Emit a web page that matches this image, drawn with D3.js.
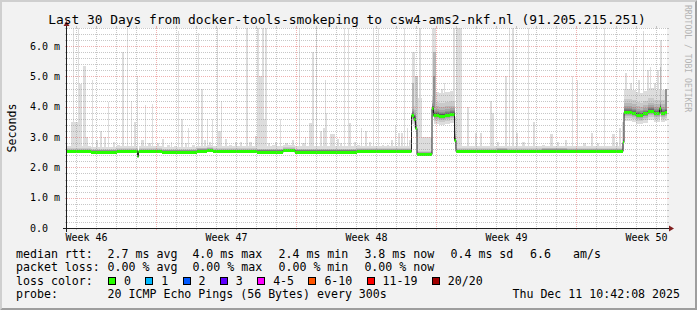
<!DOCTYPE html>
<html>
<head>
<meta charset="utf-8">
<script src="https://cdn.jsdelivr.net/npm/d3@7"></script>
<style>
  html, body { margin: 0; padding: 0; background: #f2f2f2; }
  svg { display: block; font-family: "DejaVu Sans Mono", monospace; }
</style>
</head>
<body>
<div id="chart"></div>
<script>
// ---- data: times are days since the start of the 30 day window, values in ms ----

// median rtt, as a step function (change points)
const medianDays = [0, 1.2, 2.5, 3.525, 3.575, 4.75, 6.5, 7.0, 7.3, 9.5, 10.8, 11.4, 14.5,
  17.225, 17.35, 17.425, 17.5, 18.25, 18.325, 18.6, 18.9, 19.15, 19.375, 19.45,
  21.5, 22.0, 23.75, 25.0, 27.8, 27.85, 28.25, 28.45, 28.65, 28.8, 29.05, 29.35, 29.625, 29.7, 29.9];
const medianMs = [2.53, 2.51, 2.53, 2.38, 2.53, 2.51, 2.55, 2.57, 2.53, 2.52, 2.56, 2.52, 2.54,
  3.73, 3.60, 3.30, 2.44, 3.95, 3.74, 3.71, 3.73, 3.76, 2.92, 2.53,
  2.55, 2.53, 2.55, 2.54, 2.83, 3.83, 3.80, 3.74, 3.72, 3.78, 3.86, 3.80, 3.97, 3.80, 3.84];

// periods where the ping spread is wide
const busyFrom = [17.2, 18.25, 27.85];
const busyTo = [17.5, 19.4, 30];

// smoke spread around the median, outer band first (ms)
const calmUpMs = [0.17, 0.10, 0.08, 0.06, 0.05, 0.04, 0.03, 0.02, 0.013, 0.006];
const calmDownMs = [0.05, 0.04, 0.032, 0.026, 0.02, 0.015, 0.011, 0.008, 0.005, 0.002];
const busyUpMs = [0.75, 0.42, 0.28, 0.19, 0.13, 0.09, 0.06, 0.04, 0.025, 0.01];
const busyDownMs = [0.30, 0.20, 0.14, 0.10, 0.07, 0.05, 0.035, 0.025, 0.015, 0.005];

// single high pings (spikes): start day, top (ms), width (hours), smoke band
const spikeDays = [0.2, 0.3, 0.525, 0.6, 0.775, 0.95, 1.25, 1.45, 1.65, 1.85, 2.025, 2.3, 2.5, 2.725,
  2.975, 3.175, 3.35, 3.5, 3.7, 3.875, 4.05, 4.25, 4.5, 4.75, 5.0, 5.175, 5.35, 5.55, 5.7, 5.9, 6.05,
  6.25, 6.55, 6.7, 6.85, 6.975, 7.1, 7.225, 7.475, 7.5, 7.55, 7.7, 7.9, 8.1, 8.4, 8.65, 8.95, 9.1,
  9.4, 9.5, 9.55, 9.6, 9.75, 9.9, 10.05, 10.25, 10.4, 10.65, 10.9, 11.25, 11.575, 11.75, 11.9, 12.1,
  12.25, 12.45, 12.65, 12.8, 12.9, 12.95, 13.15, 13.5, 13.65, 13.85, 14.025, 14.1, 14.35, 14.5, 14.7,
  14.9, 15.1, 15.3, 15.55, 15.75, 16.0, 16.2, 16.375, 16.55, 16.7, 16.85, 17.0, 17.1, 17.225, 17.25,
  17.375, 17.5, 17.6, 17.75, 18.25, 18.275, 18.3, 18.5, 18.7, 18.85, 19.0, 19.3, 19.45, 19.55, 20.0,
  20.4, 20.65, 21.15, 21.25, 21.5, 21.9, 22.1, 22.25, 22.45, 22.75, 23.05, 23.3, 23.75, 24.15, 24.5,
  24.9, 25.25, 25.5, 25.8, 26.2, 26.5, 26.85, 27.25, 27.45, 27.6, 27.75, 27.9, 28.15, 28.3, 28.55,
  28.8, 29.0, 29.15, 29.35, 29.5, 29.65, 29.65, 29.9];
const spikeTopMs = [3.5, 6.6, 6.6, 4.75, 5.35, 3.0, 4.9, 2.9, 3.2, 3.0, 4.15, 2.85, 2.75, 5.8,
  6.6, 4.2, 3.5, 5.0, 2.9, 4.05, 2.8, 4.1, 2.8, 2.95, 2.75, 2.85, 2.7, 6.5, 3.6, 2.8, 3.3,
  2.75, 6.45, 4.6, 2.9, 3.6, 2.85, 3.6, 6.6, 4.1, 3.2, 4.2, 2.95, 2.75, 2.85, 2.85, 6.6, 2.85,
  3.05, 6.6, 5.0, 3.6, 6.6, 6.6, 2.8, 2.75, 2.85, 3.6, 2.8, 2.9, 6.6, 2.8, 3.0, 3.45,
  5.8, 6.6, 3.2, 3.3, 4.9, 3.8, 3.1, 2.95, 2.8, 6.6, 6.6, 3.45, 2.85, 2.75, 3.3,
  3.2, 2.85, 6.6, 6.6, 2.75, 2.75, 2.9, 3.4, 3.15, 3.15, 6.6, 3.3, 2.9, 5.8, 4.8,
  5.0, 4.3, 6.6, 3.0, 6.6, 5.8, 5.0, 4.3, 4.6, 4.8, 4.4, 6.6, 6.6, 6.6, 4.0,
  3.15, 3.15, 4.2, 3.8, 2.85, 5.0, 6.6, 6.6, 3.15, 2.85, 6.6, 3.5, 2.75, 3.1, 2.85,
  2.9, 5.0, 4.9, 2.8, 3.15, 2.8, 6.6, 3.1, 2.85, 3.3, 3.5, 5.1, 4.8, 6.0, 4.9,
  6.5, 5.2, 5.3, 4.8, 5.2, 6.2, 5.3, 4.6];
const spikeHours = [8.4, 1.2, 1.2, 3.6, 3.6, 2.4, 1.2, 2.4, 1.8, 1.8, 1.2, 2.4, 3.6, 2.4,
  1.2, 1.2, 1.8, 1.2, 3.6, 1.2, 3.6, 1.2, 2.4, 2.4, 3.6, 1.2, 3.6, 1.2, 1.8, 2.4, 1.2,
  3.6, 1.2, 1.8, 2.4, 1.2, 2.4, 1.2, 1.2, 1.2, 4.8, 1.2, 2.4, 3.6, 2.4, 2.4, 1.8, 3.6,
  2.4, 2.4, 4.8, 9.6, 1.8, 1.8, 2.4, 3.6, 2.4, 1.2, 3.6, 2.4, 1.2, 3.6, 1.2, 6.0,
  1.8, 1.2, 1.8, 2.4, 1.2, 1.2, 6.0, 2.4, 2.4, 1.2, 1.2, 1.8, 2.4, 3.6, 1.2,
  1.8, 2.4, 1.2, 1.2, 2.4, 2.4, 2.4, 1.8, 2.4, 2.4, 1.2, 1.2, 2.4, 3.6, 2.4,
  3.6, 6.0, 1.8, 12.0, 4.8, 3.6, 2.4, 20.4, 1.8, 1.2, 1.8, 1.8, 1.8, 4.8, 1.8,
  2.4, 2.4, 1.8, 2.4, 2.4, 1.8, 1.2, 1.8, 2.4, 3.6, 1.2, 1.8, 3.6, 3.6, 2.4,
  2.4, 1.2, 1.2, 3.6, 2.4, 2.4, 1.2, 3.6, 2.4, 2.4, 1.8, 2.4, 1.8, 1.2, 2.4,
  1.2, 1.8, 1.2, 1.8, 1.8, 1.8, 1.2, 1.8];
const spikeBand = spikeDays.map(() => 1);
[[93, 3], [94, 2], [99, 3], [100, 5], [145, 3], [146, 5]].forEach(([i, b]) => { spikeBand[i] = b; });

const yTickMs = [0, 1, 2, 3, 4, 5, 6];
const yTickLabels = ["0.0", "1.0 m", "2.0 m", "3.0 m", "4.0 m", "5.0 m", "6.0 m"];

const lossLabels = ["0", "1", "2", "3", "4-5", "6-10", "11-19", "20/20"];
const lossColors = ["#26ff00", "#00b8ff", "#0059ff", "#5e00ff", "#ff00ff", "#ff5500", "#ff0000", "#a00000"];

// ---- layout ----
const W = 697, H = 310;
const margin = {left: 67, top: 28};
const width = 600, height = 200;
const yMax = 6.6;

const endTime = new Date(Date.UTC(2025, 11, 11, 12, 30));
const startTime = d3.utcDay.offset(endTime, -30);
const at = d => new Date(+startTime + d * 864e5);

const x = d3.scaleUtc().domain([startTime, endTime]).range([margin.left, margin.left + width]);
const y = d3.scaleLinear().domain([0, yMax]).range([margin.top + height, margin.top]);
const xd = d => x(at(d));

const svg = d3.select("#chart").append("svg")
  .attr("width", W).attr("height", H);

// background and bevel
svg.append("rect").attr("width", W).attr("height", H).attr("fill", "#f2f2f2");
svg.append("path")
  .attr("d", `M0,${H} L2,${H - 2} L2,2 L${W - 2},2 L${W},0 L0,0 Z`)
  .attr("fill", "#cfcfcf");
svg.append("path")
  .attr("d", `M2,${H - 2} L${W - 2},${H - 2} L${W - 2},2 L${W},0 L${W},${H} L0,${H} Z`)
  .attr("fill", "#9e9e9e");

svg.append("rect")
  .attr("x", margin.left).attr("y", margin.top)
  .attr("width", width).attr("height", height)
  .attr("fill", "#fff");

svg.append("clipPath").attr("id", "plotClip")
  .append("rect")
  .attr("x", margin.left).attr("y", margin.top)
  .attr("width", width).attr("height", height);

const plot = svg.append("g").attr("clip-path", "url(#plotClip)");

// ---- smoke ----
const greys = d3.range(1, 11).map(i => {
  const c = Math.floor(190 / 10 * (10 - i)) + 50;
  return d3.rgb(c, c, c).formatHex();
});

const segs = medianDays.map((d, i) => ({
  d0: d,
  d1: i + 1 < medianDays.length ? medianDays[i + 1] : 30,
  m: medianMs[i],
  busy: busyFrom.some((b, j) => d >= b && d < busyTo[j])
}));

const medianAt = d => medianMs[Math.max(0, d3.bisectRight(medianDays, d) - 1)];

const spikes = spikeDays.map((d, i) => ({
  d: d, top: spikeTopMs[i], hours: spikeHours[i], band: spikeBand[i], base: medianAt(d)
}));

const smoke = plot.append("g").attr("shape-rendering", "crispEdges");

greys.forEach((col, k) => {
  smoke.append("g").selectAll("rect")
    .data(segs)
    .join("rect")
    .attr("x", s => xd(s.d0))
    .attr("width", s => xd(s.d1) - xd(s.d0))
    .attr("y", s => y(s.m + (s.busy ? busyUpMs : calmUpMs)[k]))
    .attr("height", s => y(s.m - (s.busy ? busyDownMs : calmDownMs)[k]) - y(s.m + (s.busy ? busyUpMs : calmUpMs)[k]))
    .attr("fill", col);

  smoke.append("g").selectAll("rect")
    .data(spikes.filter(s => s.band === k + 1))
    .join("rect")
    .attr("x", s => xd(s.d))
    .attr("width", s => Math.max(1, xd(s.d + s.hours / 24) - xd(s.d)))
    .attr("y", s => y(s.top))
    .attr("height", s => y(s.base) - y(s.top))
    .attr("fill", col);
});

// ---- median line and loss colour band ----
const medPts = medianDays.map((d, i) => [d, medianMs[i]])
  .concat([[30, medianMs[medianMs.length - 1]]]);

plot.append("path")
  .datum(medPts)
  .attr("fill", "none")
  .attr("stroke", "#202020")
  .attr("stroke-width", 1)
  .attr("d", d3.line().curve(d3.curveStepAfter)
    .x(p => xd(p[0])).y(p => Math.round(y(p[1])) + 0.5));

plot.append("path")
  .datum(medPts)
  .attr("fill", lossColors[0])
  .attr("d", d3.area().curve(d3.curveStepAfter)
    .x(p => xd(p[0]))
    .y0(p => Math.round(y(p[1])) + 2)
    .y1(p => Math.round(y(p[1])) - 1));

// ---- grid ----
const gridCol = "rgba(143,143,143,0.5)";
const mgridCol = "rgba(222,79,79,0.45)";
const grid = svg.append("g").attr("shape-rendering", "crispEdges");
const X0 = margin.left, X1 = margin.left + width, Y0 = margin.top + height, Y1 = margin.top;

const yGrid = d3.range(0, 34).map(k => ({v: k / 5, major: k % 5 === 0}));
yGrid.forEach(g => {
  const yy = Math.round(y(g.v)) + 0.5;
  const col = g.major ? mgridCol : gridCol;
  grid.append("line").attr("x1", X0 - 2).attr("x2", X0).attr("y1", yy).attr("y2", yy).attr("stroke", col);
  grid.append("line").attr("x1", X1).attr("x2", X1 + 2).attr("y1", yy).attr("y2", yy).attr("stroke", col);
  grid.append("line").attr("x1", X0).attr("x2", X1).attr("y1", yy).attr("y2", yy)
    .attr("stroke", col).attr("stroke-dasharray", "1,1");
});

const days = d3.utcDay.range(d3.utcDay.ceil(startTime), endTime);
days.forEach(t => {
  const major = t.getUTCDay() === 0;
  const xx = Math.floor(x(t)) + 0.5;
  const col = major ? mgridCol : gridCol;
  grid.append("line").attr("x1", xx).attr("x2", xx).attr("y1", Y0).attr("y2", Y0 + 2).attr("stroke", col);
  grid.append("line").attr("x1", xx).attr("x2", xx).attr("y1", Y1 - 2).attr("y2", Y1).attr("stroke", col);
  grid.append("line").attr("x1", xx).attr("x2", xx).attr("y1", Y1).attr("y2", Y0)
    .attr("stroke", col).attr("stroke-dasharray", "1,1");
});

// ---- axes ----
const axisCol = "#1f1f1f", arrowCol = "#801f1f";
svg.append("line").attr("x1", X0 - 4).attr("x2", X1 + 4)
  .attr("y1", Y0 + 0.5).attr("y2", Y0 + 0.5).attr("stroke", axisCol);
svg.append("line").attr("x1", X0 - 0.5).attr("x2", X0 - 0.5)
  .attr("y1", Y0 + 4).attr("y2", Y1 - 4).attr("stroke", axisCol);
svg.append("path")
  .attr("d", `M${X1 + 2},${Y0 - 2.5} L${X1 + 2},${Y0 + 3.5} L${X1 + 7},${Y0 + 0.5} Z`)
  .attr("fill", arrowCol);
svg.append("path")
  .attr("d", `M${X0 - 3.5},${Y1 - 2} L${X0 + 2.5},${Y1 - 2} L${X0 - 0.5},${Y1 - 7} Z`)
  .attr("fill", arrowCol);

// y labels
svg.append("g").selectAll("text")
  .data(yTickMs)
  .join("text")
  .attr("x", 30)
  .attr("y", v => y(v) + 3.6)
  .attr("font-size", 10)
  .attr("fill", "#000")
  .text((v, i) => yTickLabels[i]);

// week labels, centred in the middle of each week
const weekFmt = d3.utcFormat("%V");
const weekMids = d3.utcSunday.range(d3.utcSunday.offset(startTime, -1), endTime)
  .map(t => new Date(+t + 3.5 * 864e5))
  .filter(t => t >= startTime && t <= endTime);
svg.append("g").selectAll("text")
  .data(weekMids)
  .join("text")
  .attr("x", t => x(t))
  .attr("y", 241)
  .attr("text-anchor", "middle")
  .attr("font-size", 10)
  .text(t => "Week " + weekFmt(t));

// title, axis title, watermark
svg.append("text")
  .attr("x", 347).attr("y", 24.3)
  .attr("text-anchor", "middle")
  .attr("font-size", 12.9)
  .text("Last 30 Days from docker-tools-smokeping to csw4-ams2-nkf.nl (91.205.215.251)");

svg.append("text")
  .attr("transform", "translate(15.5,128) rotate(-90)")
  .attr("text-anchor", "middle")
  .attr("font-size", 11.6)
  .text("Seconds");

svg.append("text")
  .attr("transform", "translate(685,5) rotate(90)")
  .attr("font-size", 8.1)
  .attr("fill", "#b4b4b4")
  .text("RRDTOOL / TOBI OETIKER");

// ---- legend ----
const legend = svg.append("g").attr("font-size", 11.6).attr("xml:space", "preserve");
const rows = [
  {y: 258, items: [[16, "median rtt:"], [107.6, "2.7 ms avg"], [192.4, "4.0 ms max"], [278.5, "2.4 ms min"],
    [364.4, "3.8 ms now"], [450.5, "0.4 ms sd"], [530, "6.6"], [573, "am/s"]]},
  {y: 271.3, items: [[16, "packet loss:"], [107.6, "0.00 % avg"], [192.4, "0.00 % max"], [278.5, "0.00 % min"],
    [364.4, "0.00 % now"]]},
  {y: 284.7, items: [[16, "loss color:"]]},
  {y: 298, items: [[16, "probe:"], [107.6, "20 ICMP Echo Pings (56 Bytes) every 300s"]]}
];
rows.forEach(r => {
  r.items.forEach(([lx, t]) => {
    legend.append("text").attr("x", lx).attr("y", r.y).text(t);
  });
});

legend.append("text")
  .attr("x", 680).attr("y", 298)
  .attr("text-anchor", "end")
  .text("Thu Dec 11 10:42:08 2025");

// loss colour boxes laid out one after another
let lx = 108.5;
lossLabels.forEach((lab, i) => {
  legend.append("rect")
    .attr("x", lx).attr("y", 277.5)
    .attr("width", 7).attr("height", 7)
    .attr("fill", lossColors[i])
    .attr("stroke", "#000")
    .attr("stroke-width", 1)
    .attr("shape-rendering", "crispEdges");
  const t = legend.append("text").attr("x", lx + 15.5).attr("y", 284.7).text(lab);
  lx = lx + 15.5 + t.node().getComputedTextLength() + 14.8;
});
</script>
</body>
</html>
